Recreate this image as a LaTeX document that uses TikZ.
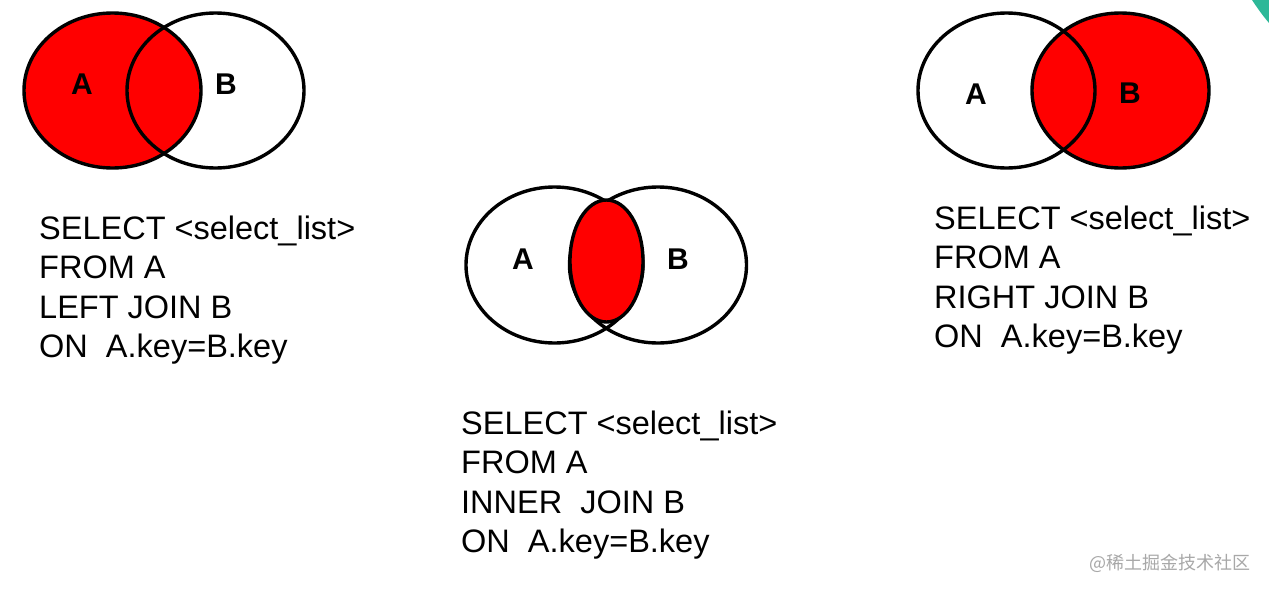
\documentclass[tikz,border=0pt]{standalone}
\usepackage{fontspec}
\setmainfont{Liberation Sans}
\newfontfamily\cjk{Noto Sans CJK SC}
\definecolor{vennred}{HTML}{FF0000}
\definecolor{cornerteal}{HTML}{2DB898}
\definecolor{wmgray}{HTML}{A8A8A8}
\begin{document}
\begin{tikzpicture}[x=1pt,y=-1pt,
  venn/.style={draw=black,line width=3.4pt},
  setlabel/.style={font=\fontsize{30}{30}\selectfont\bfseries,inner sep=0pt},
  sqlblock/.style={font=\fontsize{32.5}{39.5}\selectfont,align=left,anchor=base west,inner sep=0pt}]
\useasboundingbox (0,0) rectangle (1269,592);
\fill[white] (0,0) rectangle (1269,592);
\fill[cornerteal] (1252,0) .. controls (1258,9) and (1263,16) .. (1269,23) -- (1269,0) -- cycle;

% LEFT JOIN
\fill[vennred] (112.5,90.5) ellipse [x radius=88.5,y radius=77.5];
\draw[venn] (215.5,90.5) ellipse [x radius=88.5,y radius=77.5];
\draw[venn] (112.5,90.5) ellipse [x radius=88.5,y radius=77.5];
\node[setlabel] (lA) at (82,84) {A};
\node[setlabel] (lB) at (226,84) {B};
\node[sqlblock] (lsql) at (39,357.5) {SELECT <select\_list>\\FROM A\\LEFT JOIN B\\ON\ \ A.key=B.key};

% INNER JOIN
\draw[venn,fill=white] (554.5,265) ellipse [x radius=88.5,y radius=78];
\draw[venn] (658,265) ellipse [x radius=88.5,y radius=78];
\draw[venn,fill=vennred] (606.5,261) ellipse [x radius=36.5,y radius=61];
\node[setlabel] (mA) at (523,259) {A};
\node[setlabel] (mB) at (678,259) {B};
\node[sqlblock] (msql) at (461,552.5) {SELECT <select\_list>\\FROM A\\INNER\ \ JOIN B\\ON\ \ A.key=B.key};

% RIGHT JOIN
\fill[vennred] (1120.5,90.5) ellipse [x radius=88.5,y radius=77.5];
\draw[venn] (1006.5,90.5) ellipse [x radius=88.5,y radius=77.5];
\draw[venn] (1120.5,90.5) ellipse [x radius=88.5,y radius=77.5];
\node[setlabel] (rA) at (976,94) {A};
\node[setlabel] (rB) at (1130,93) {B};
\node[sqlblock] (rsql) at (934,347.5) {SELECT <select\_list>\\FROM A\\RIGHT JOIN B\\ON\ \ A.key=B.key};

% watermark
\node[font=\fontsize{18}{18}\selectfont\cjk,text=wmgray,anchor=west,inner sep=0pt] (wm) at (1089,563) {@稀土掘金技术社区};
\end{tikzpicture}
\end{document}
